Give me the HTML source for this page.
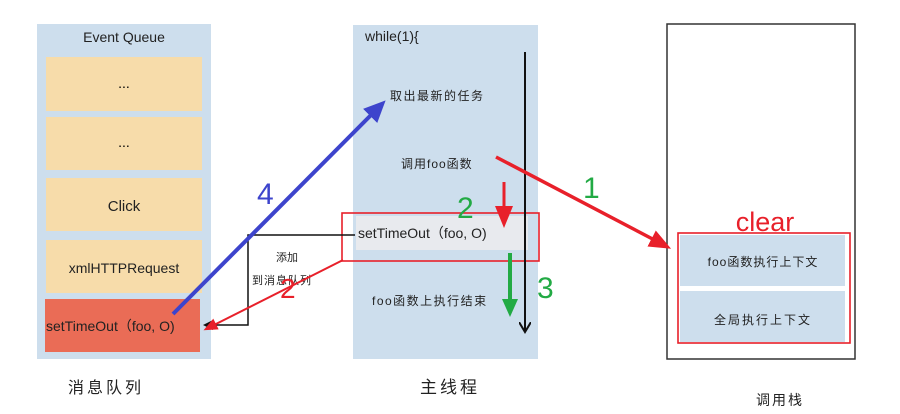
<!DOCTYPE html>
<html><head><meta charset="utf-8"><style>
html,body{margin:0;padding:0;background:#fff;width:900px;height:414px;overflow:hidden}
text{font-family:"Liberation Sans","Noto Sans CJK SC",sans-serif}
</style></head><body>
<svg width="900" height="414" viewBox="0 0 900 414" xmlns="http://www.w3.org/2000/svg">
<defs>
<marker id="ab" markerWidth="22" markerHeight="20" refX="14" refY="10" orient="auto" markerUnits="userSpaceOnUse"><path d="M0,0 L22,10 L0,20 z" fill="#3d44cc"/></marker>
<marker id="ar2" markerWidth="22" markerHeight="18" refX="14" refY="9" orient="auto" markerUnits="userSpaceOnUse"><path d="M0,0 L22,9 L0,18 z" fill="#e8202a"/></marker>
<marker id="ar3" markerWidth="14" markerHeight="12" refX="9" refY="6" orient="auto" markerUnits="userSpaceOnUse"><path d="M0,0 L14,6 L0,12 z" fill="#e8202a"/></marker>
<marker id="ag" markerWidth="18" markerHeight="16" refX="10" refY="8" orient="auto" markerUnits="userSpaceOnUse"><path d="M0,0 L18,8 L0,16 z" fill="#22aa44"/></marker>
<marker id="ak" markerWidth="12" markerHeight="12" refX="10" refY="6" orient="auto" markerUnits="userSpaceOnUse"><path d="M0,0 L10,6 L0,12" fill="none" stroke="#111" stroke-width="2"/></marker>
<marker id="akf" markerWidth="10" markerHeight="10" refX="8" refY="5" orient="auto" markerUnits="userSpaceOnUse"><path d="M0,0 L10,5 L0,10 z" fill="#111"/></marker>
</defs>
<!-- left panel -->
<rect x="37" y="24" width="174" height="335" fill="#cddeed"/>
<text x="124" y="42" font-size="14" text-anchor="middle" fill="#222">Event Queue</text>
<rect x="46" y="57" width="156" height="54" fill="#f7dcaa"/>
<text x="124" y="88" font-size="14" text-anchor="middle">...</text>
<rect x="46" y="117" width="156" height="53" fill="#f7dcaa"/>
<text x="124" y="147" font-size="14" text-anchor="middle">...</text>
<rect x="46" y="178" width="156" height="53" fill="#f7dcaa"/>
<text x="124" y="211" font-size="15" text-anchor="middle" fill="#222">Click</text>
<rect x="46" y="240" width="156" height="53" fill="#f7dcaa"/>
<text x="124" y="273" font-size="14" text-anchor="middle" fill="#222">xmlHTTPRequest</text>
<rect x="45" y="299" width="155" height="53" fill="#ea6c56"/>
<text x="46" y="331" font-size="14" fill="#222">setTimeOut（foo, O)</text>
<text x="106" y="393" font-size="16" text-anchor="middle" fill="#222" letter-spacing="3">消息队列</text>
<!-- main -->
<rect x="353" y="25" width="185" height="334" fill="#cddeed"/>
<text x="365" y="41" font-size="14" fill="#222">while(1){</text>
<text x="390" y="100" font-size="12" fill="#222" letter-spacing="1.5">取出最新的任务</text>
<text x="401" y="168" font-size="12" fill="#222" letter-spacing="1">调用foo函数</text>
<rect x="356" y="216" width="172" height="34" fill="#e8eaee"/>
<text x="358" y="238" font-size="14" fill="#222">setTimeOut（foo, O)</text>
<rect x="342" y="213" width="197" height="48" fill="none" stroke="#e8202a" stroke-width="1.6"/>
<text x="372" y="305" font-size="12" fill="#222" letter-spacing="1.5">foo函数上执行结束</text>
<line x1="525" y1="52" x2="525" y2="332" stroke="#111" stroke-width="2" marker-end="url(#ak)"/>
<text x="450" y="393" font-size="17" text-anchor="middle" fill="#222" letter-spacing="3">主线程</text>
<!-- callstack -->
<rect x="667" y="24" width="188" height="335" fill="#fff" stroke="#333" stroke-width="1.5"/>
<rect x="680" y="235" width="165" height="51" fill="#cddeed"/>
<rect x="680" y="291" width="165" height="51" fill="#cddeed"/>
<rect x="678" y="233" width="172" height="110" fill="none" stroke="#e8202a" stroke-width="1.6"/>
<text x="763" y="266" font-size="12" text-anchor="middle" fill="#222" letter-spacing="1">foo函数执行上下文</text>
<text x="763" y="324" font-size="12" text-anchor="middle" fill="#222" letter-spacing="2">全局执行上下文</text>
<text x="765" y="231" font-size="27" text-anchor="middle" fill="#e8202a">clear</text>
<text x="780" y="405" font-size="14" text-anchor="middle" fill="#222" letter-spacing="2">调用栈</text>
<!-- add-to-queue connector -->
<polyline points="355,235 248,235 248,325 205,325" fill="none" stroke="#111" stroke-width="1.5" marker-end="url(#akf)"/>
<text x="276" y="261" font-size="11" fill="#222">添加</text>
<text x="252" y="284" font-size="11" fill="#222" letter-spacing="1">到消息队列</text>
<!-- arrows -->
<line x1="343" y1="260" x2="208" y2="328" stroke="#e8202a" stroke-width="2" marker-end="url(#ar3)"/>
<text x="280" y="298" font-size="28" fill="#e8202a">2</text>
<line x1="173" y1="314" x2="380" y2="106" stroke="#3d44cc" stroke-width="4" marker-end="url(#ab)"/>
<text x="257" y="204" font-size="30" fill="#3d44cc">4</text>
<line x1="496" y1="157" x2="664" y2="245" stroke="#e8202a" stroke-width="3.5" marker-end="url(#ar2)"/>
<text x="583" y="198" font-size="30" fill="#22aa44">1</text>
<line x1="504" y1="182" x2="504" y2="220" stroke="#e8202a" stroke-width="3" marker-end="url(#ar2)"/>
<text x="457" y="218" font-size="30" fill="#22aa44">2</text>
<line x1="510" y1="253" x2="510" y2="309" stroke="#22aa44" stroke-width="4" marker-end="url(#ag)"/>
<text x="537" y="298" font-size="30" fill="#22aa44">3</text>
</svg>
</body></html>
